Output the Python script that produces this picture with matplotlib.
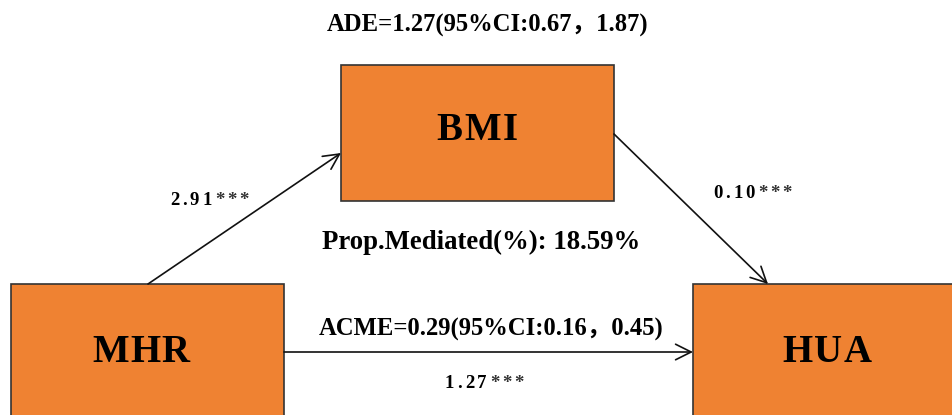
import matplotlib
matplotlib.use("Agg")
import matplotlib.pyplot as plt
from matplotlib.patches import Rectangle, FancyArrowPatch

# Nodes of the mediation model
node_names = ["MHR", "BMI", "HUA"]
# Path coefficients
path_a = "2.91***"      # MHR -> BMI
path_b = "0.10***"      # BMI -> HUA
path_c = "1.27***"      # MHR -> HUA
ade_label = "ADE=1.27(95%CI:0.67，1.87)"
acme_label = "ACME=0.29(95%CI:0.16，0.45)"
prop_label = "Prop.Mediated(%): 18.59%"

W, H = 953, 415
fig = plt.figure(figsize=(W / 100, H / 100), dpi=100)
ax = fig.add_axes([0, 0, 1, 1])
ax.set_xlim(0, W)
ax.set_ylim(H, 0)
ax.axis("off")

FILL = "#EF8232"
EDGE = "#333333"
SERIF = ["Liberation Serif", "Noto Sans CJK SC", "DejaVu Serif"]

# box geometry: (left, top, width, height)
boxes = {
    "MHR": (11, 284, 273, 160),
    "BMI": (341, 65, 273, 136),
    "HUA": (693, 284, 300, 160),
}
for name in node_names:
    x, y, w, h = boxes[name]
    ax.add_patch(Rectangle((x, y), w, h, facecolor=FILL, edgecolor=EDGE,
                           linewidth=1.2, zorder=2))


def arrow(p0, p1):
    ax.add_patch(FancyArrowPatch(p0, p1, arrowstyle="->,head_length=7,head_width=3.5",
                                 mutation_scale=1.6, linewidth=1.2, color="#111111",
                                 shrinkA=0, shrinkB=0, zorder=4))


arrow((148, 284), (341, 153))
arrow((614, 134), (768, 284))
arrow((284, 352), (693, 352))

fig.canvas.draw()
renderer = fig.canvas.get_renderer()


def spaced_text(x0, y, s, size, gap, center=False, star_color="#333333"):
    """Draw a string character by character with extra tracking (in px)."""
    arts = []
    widths = []
    for ch in s:
        color = "#000000" if ch != "*" else star_color
        t = ax.text(0, y, ch, ha="left", va="center", fontsize=size,
                    fontweight="bold", family=SERIF, color=color, zorder=5)
        widths.append(t.get_window_extent(renderer).width)
        arts.append(t)
    total = sum(widths) + gap * (len(s) - 1)
    x = x0 - total / 2 if center else x0
    for t, w in zip(arts, widths):
        t.set_x(x)
        x += w + gap


label_pos = {"MHR": (141, 352), "BMI": (477, 130), "HUA": (827, 352)}
for name in node_names:
    cx, cy = label_pos[name]
    spaced_text(cx, cy, name, 28, 1.5, center=True)

spaced_text(170, 200, path_a, 13.5, 3.0)
spaced_text(713, 193, path_b, 13.5, 3.0)
spaced_text(445, 383, path_c, 13.5, 3.0)

ax.text(488, 25, ade_label, ha="center", va="center", fontsize=17.7,
        fontweight="bold", family=SERIF)
ax.text(481, 242, prop_label, ha="center", va="center", fontsize=19.3,
        fontweight="bold", family=SERIF)
ax.text(491, 329, acme_label, ha="center", va="center", fontsize=17.7,
        fontweight="bold", family=SERIF)

fig.savefig("out.png", dpi=100, facecolor="white")
